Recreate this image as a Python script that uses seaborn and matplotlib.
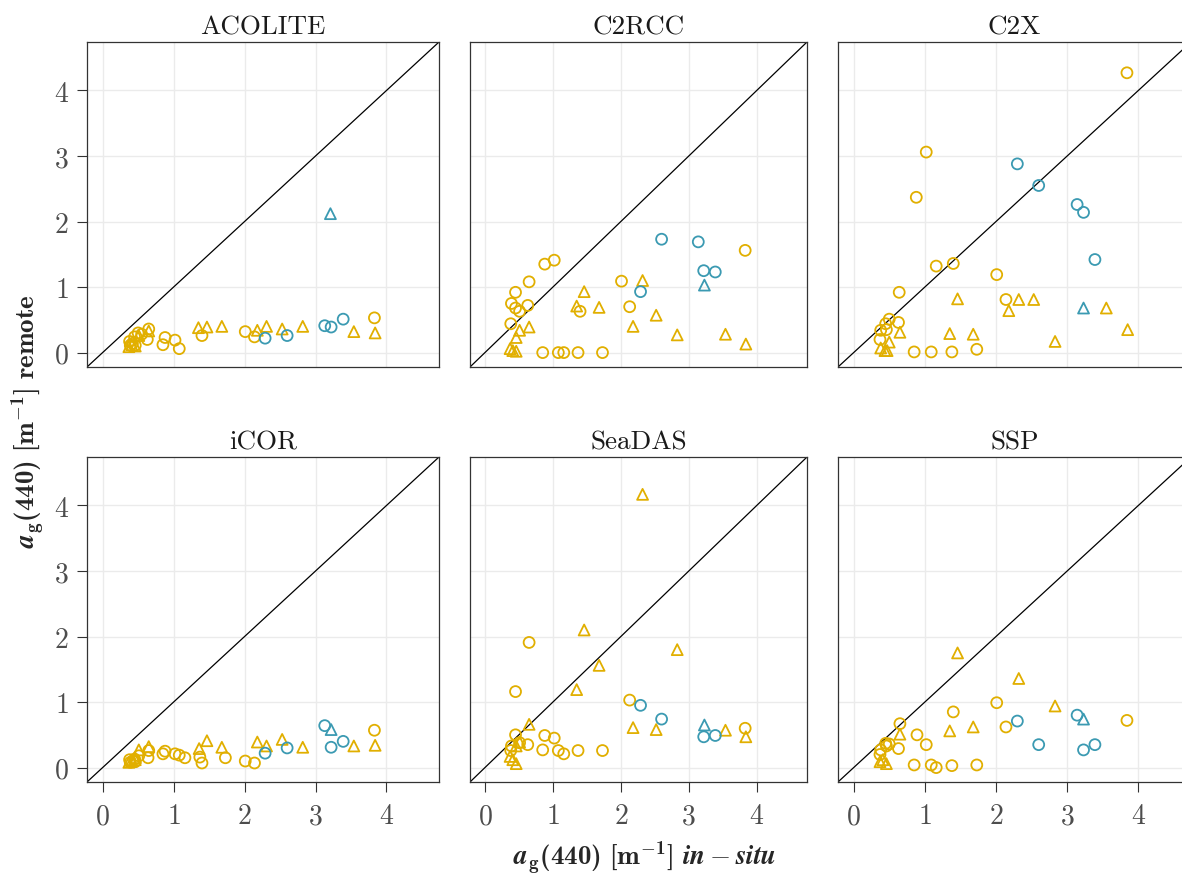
import matplotlib
matplotlib.use("Agg")
import matplotlib.pyplot as plt
import pandas as pd
import seaborn as sns

YELLOW = "#E1AF00"
BLUE = "#3B9AB2"

PANELS = ["ACOLITE", "C2RCC", "C2X", "iCOR", "SeaDAS", "SSP"]


def kinds(yc, yt, bc, bt):
    """Point kinds: y/b = colour group, c/t = circle/triangle."""
    return ["yc"] * yc + ["yt"] * yt + ["bc"] * bc + ["bt"] * bt


# ACOLITE
acolite_x = [0.38, 0.39, 0.45, 0.46, 0.50, 0.63, 0.65, 0.85, 0.88, 1.02, 1.08, 1.40, 2.01, 2.14, 3.83, 0.42, 0.55,
             0.37, 0.41, 0.46, 0.51, 0.65, 1.35, 1.47, 1.68, 2.18, 2.31, 2.53, 2.82, 3.54, 3.84,
             2.29, 2.60, 3.13, 3.22, 3.39,
             3.21]
acolite_y = [0.17, 0.11, 0.24, 0.11, 0.30, 0.20, 0.36, 0.12, 0.23, 0.19, 0.06, 0.26, 0.32, 0.24, 0.53, 0.14, 0.28,
             0.09, 0.12, 0.10, 0.26, 0.33, 0.38, 0.39, 0.40, 0.34, 0.40, 0.36, 0.40, 0.32, 0.30,
             0.22, 0.26, 0.41, 0.39, 0.51,
             2.12]
acolite_kind = kinds(17, 14, 5, 1)

# C2RCC
c2rcc_x = [3.83, 2.01, 2.13, 1.40, 1.02, 0.88, 0.65, 0.45, 0.39, 0.45, 0.51, 0.63, 0.38, 0.85, 1.08, 1.16, 1.37, 1.73,
           2.32, 1.46, 1.35, 1.68, 2.52, 2.18, 2.83, 3.54, 3.84, 0.65, 0.51, 0.46, 0.37, 0.41, 0.46,
           2.60, 3.14, 3.22, 3.39, 2.29,
           3.23]
c2rcc_y = [1.56, 1.09, 0.70, 0.63, 1.41, 1.35, 1.08, 0.92, 0.75, 0.68, 0.63, 0.72, 0.44, 0.00, 0.00, 0.00, 0.00, 0.00,
           1.10, 0.93, 0.71, 0.69, 0.57, 0.40, 0.27, 0.28, 0.13, 0.39, 0.34, 0.23, 0.06, 0.03, 0.02,
           1.73, 1.69, 1.25, 1.23, 0.93,
           1.03]
c2rcc_kind = kinds(18, 15, 5, 1)

# C2X
c2x_x = [3.84, 1.02, 0.88, 1.16, 1.40, 2.01, 0.64, 2.14, 0.63, 0.50, 0.45, 0.46, 0.38, 0.37, 0.85, 1.09, 1.38, 1.73,
         1.46, 2.32, 2.53, 2.18, 3.55, 3.85, 2.83, 1.35, 1.68, 0.65, 0.50, 0.38, 0.44, 0.47,
         2.30, 2.60, 3.14, 3.23, 3.39,
         3.23]
c2x_y = [4.27, 3.06, 2.37, 1.32, 1.36, 1.19, 0.92, 0.81, 0.46, 0.51, 0.44, 0.35, 0.34, 0.20, 0.01, 0.01, 0.01, 0.05,
         0.82, 0.81, 0.81, 0.64, 0.68, 0.35, 0.17, 0.29, 0.28, 0.31, 0.16, 0.07, 0.03, 0.03,
         2.88, 2.55, 2.26, 2.14, 1.42,
         0.68]
c2x_kind = kinds(18, 14, 5, 1)

# iCOR
icor_x = [3.83, 2.01, 2.14, 1.73, 1.37, 1.40, 1.16, 1.08, 1.02, 0.88, 0.85, 0.64, 0.65, 0.38, 0.39, 0.45, 0.46, 0.51,
          1.47, 1.36, 1.68, 2.18, 2.31, 2.53, 2.82, 3.54, 3.84, 0.65, 0.51, 0.37, 0.41, 0.46, 0.46,
          2.29, 2.60, 3.13, 3.22, 3.39,
          3.22]
icor_y = [0.57, 0.10, 0.07, 0.15, 0.16, 0.07, 0.15, 0.19, 0.21, 0.25, 0.21, 0.15, 0.26, 0.12, 0.08, 0.13, 0.09, 0.18,
          0.41, 0.29, 0.31, 0.39, 0.33, 0.43, 0.31, 0.33, 0.34, 0.32, 0.27, 0.08, 0.10, 0.12, 0.15,
          0.22, 0.30, 0.64, 0.31, 0.40,
          0.58]
icor_kind = kinds(18, 15, 5, 1)

# SeaDAS
seadas_x = [0.65, 0.45, 2.13, 3.83, 0.45, 0.88, 1.02, 0.63, 0.51, 0.39, 0.38, 0.85, 1.08, 1.16, 1.37, 1.73,
            2.32, 1.46, 2.83, 1.68, 1.35, 0.65, 2.18, 2.52, 3.54, 3.84, 0.51, 0.46, 0.37, 0.41, 0.46,
            2.29, 2.60, 3.22, 3.39,
            3.23]
seadas_y = [1.91, 1.16, 1.03, 0.60, 0.50, 0.49, 0.45, 0.35, 0.38, 0.33, 0.26, 0.27, 0.26, 0.21, 0.26, 0.26,
            4.17, 2.10, 1.80, 1.56, 1.19, 0.66, 0.61, 0.58, 0.57, 0.47, 0.39, 0.33, 0.17, 0.12, 0.06,
            0.95, 0.74, 0.47, 0.49,
            0.65]
seadas_kind = kinds(16, 15, 4, 1)

# SSP
ssp_x = [0.65, 1.40, 2.01, 2.14, 3.84, 0.89, 1.02, 0.63, 0.45, 0.50, 0.46, 0.38, 0.37, 0.85, 1.09, 1.16, 1.38, 1.73,
         1.46, 2.32, 2.83, 1.35, 1.68, 0.65, 0.37, 0.46, 0.41,
         2.30, 2.60, 3.14, 3.23, 3.39,
         3.23]
ssp_y = [0.67, 0.85, 0.99, 0.62, 0.72, 0.50, 0.35, 0.29, 0.37, 0.36, 0.33, 0.27, 0.20, 0.04, 0.04, 0.00, 0.03, 0.04,
         1.75, 1.36, 0.94, 0.56, 0.62, 0.51, 0.09, 0.06, 0.12,
         0.71, 0.35, 0.80, 0.27, 0.35,
         0.74]
ssp_kind = kinds(18, 9, 5, 1)

PANEL_DATA = {
    "ACOLITE": (acolite_x, acolite_y, acolite_kind),
    "C2RCC": (c2rcc_x, c2rcc_y, c2rcc_kind),
    "C2X": (c2x_x, c2x_y, c2x_kind),
    "iCOR": (icor_x, icor_y, icor_kind),
    "SeaDAS": (seadas_x, seadas_y, seadas_kind),
    "SSP": (ssp_x, ssp_y, ssp_kind),
}

TICKS = [0, 1, 2, 3, 4]
LIMS = (-0.22, 4.74)

sns.set_theme(style="ticks")
plt.rcParams["font.family"] = ["cmr10", "DejaVu Serif"]
plt.rcParams["mathtext.fontset"] = "custom"
plt.rcParams["mathtext.rm"] = "cmr10"
plt.rcParams["mathtext.bf"] = "cmb10"
plt.rcParams["mathtext.it"] = "cmmi10"
plt.rcParams["mathtext.bfit"] = "STIXGeneral:italic:bold"
plt.rcParams["axes.unicode_minus"] = False
plt.rcParams["axes.formatter.use_mathtext"] = True

W, H = 1182, 878
fig = plt.figure(figsize=(W / 100, H / 100), dpi=100)

# panel boxes in pixels (left, right) and (top, bottom)
cols = [(87, 439), (470, 807), (838, 1191)]
rows = [(43, 368), (458, 783)]

for i, name in enumerate(PANELS):
    r, c = divmod(i, 3)
    l, rr = cols[c]
    t, b = rows[r]
    ax = fig.add_axes([l / W, 1 - b / H, (rr - l) / W, (b - t) / H])

    x, y, kind = PANEL_DATA[name]
    df = pd.DataFrame({"x": x, "y": y, "kind": kind})
    df["grp"] = df["kind"].str[0]
    df["shape"] = df["kind"].str[1]

    ax.axline((0, 0), slope=1, color="black", lw=0.9, zorder=2)
    sns.scatterplot(data=df, x="x", y="y", hue="grp", style="shape",
                    palette={"y": YELLOW, "b": BLUE}, markers={"c": "o", "t": "^"},
                    s=62, linewidth=1.3, legend=False, ax=ax, zorder=3)
    # open markers
    for coll in ax.collections:
        fc = coll.get_facecolors()
        coll.set_edgecolors(fc)
        coll.set_facecolors("none")

    ax.set_xlim(LIMS)
    ax.set_ylim(LIMS)
    ax.set_xticks(TICKS)
    ax.set_yticks(TICKS)
    ax.grid(True, color="#EBEBEB", lw=1.0, zorder=0)
    ax.set_axisbelow(True)
    for sp in ax.spines.values():
        sp.set_color("#333333")
        sp.set_linewidth(0.9)
    ax.set_xlabel("")
    ax.set_ylabel("")
    ax.set_title(name, fontsize=19.5, pad=6, color="#1A1A1A")
    ax.tick_params(axis="both", colors="#333333", labelcolor="#4D4D4D",
                   labelsize=20, length=7, width=0.8, pad=6)
    ax.tick_params(axis="x", pad=8)
    if r == 0:
        ax.tick_params(axis="x", bottom=False, labelbottom=False)
    if c > 0:
        ax.tick_params(axis="y", left=False, labelleft=False)

fig.text(645 / W, 1 - 858 / H,
         r"$\mathbfit{a}_{\mathbf{g}}\mathbf{(440)}\ \mathbf{[m^{-1}]}\ \mathbfit{in} - \mathbfit{situ}$",
         ha="center", va="center", fontsize=19.5)
fig.text(28 / W, 1 - 421 / H,
         r"$\mathbfit{a}_{\mathbf{g}}\mathbf{(440)}\ \mathbf{[m^{-1}]}\ \mathbf{remote}$",
         ha="center", va="center", rotation=90, fontsize=19.5)

fig.savefig("out.png", dpi=100)
